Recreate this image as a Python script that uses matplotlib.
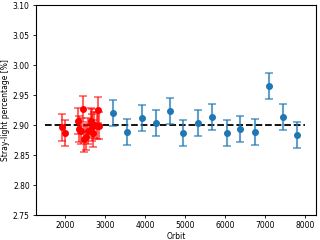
import numpy as np
import matplotlib.pyplot as plt

red_orbit = [1917, 2000, 2333, 2358, 2400, 2442, 2483, 2525, 2583, 2642,
             2667, 2683, 2708, 2733, 2792, 2817, 2858]
red_value = [2.896, 2.887, 2.907, 2.893, 2.890, 2.927, 2.877, 2.880, 2.890, 2.907,
             2.896, 2.904, 2.886, 2.900, 2.899, 2.925, 2.899]
red_err = [0.022] * len(red_orbit)

blue_orbit = [3200, 3550, 3925, 4275, 4625, 4950, 5325, 5675, 6050, 6375,
              6750, 7100, 7450, 7800]
blue_value = [2.920, 2.888, 2.912, 2.903, 2.923, 2.887, 2.903, 2.913, 2.887, 2.893,
              2.888, 2.965, 2.913, 2.883]
blue_err = [0.022] * len(blue_orbit)

ref_level = 2.90

fig = plt.figure(figsize=(3.2, 2.4), dpi=100)
ax = fig.add_axes([0.1125, 0.104, 0.875, 0.875])

ax.hlines(ref_level, 1500, 8000, colors='k', linestyles='--', lw=1.3, zorder=1)

ax.errorbar(red_orbit, red_value, yerr=red_err, fmt='o', color='red', ms=4,
            ecolor=(1, 0, 0, 0.6), elinewidth=1.5, capsize=3, capthick=1.2, zorder=3)
ax.errorbar(blue_orbit, blue_value, yerr=blue_err, fmt='o', color='tab:blue', ms=4,
            ecolor=(0.12, 0.47, 0.71, 0.7), elinewidth=1.5, capsize=3, capthick=1.2, zorder=3)

ax.set_xlim(1275, 8275)
ax.set_ylim(2.75, 3.10)
ax.set_xticks([2000, 3000, 4000, 5000, 6000, 7000, 8000])
ax.set_yticks(np.arange(2.75, 3.101, 0.05))
ax.yaxis.set_major_formatter(plt.FormatStrFormatter('%.2f'))
ax.tick_params(labelsize=5.5, length=2.5, width=0.6, pad=2)
ax.set_xlabel('Orbit', fontsize=5.5, labelpad=1)
ax.set_ylabel('Stray-light percentage [%]', fontsize=5.5, labelpad=2)
for s in ax.spines.values():
    s.set_linewidth(0.8)

fig.savefig('out.png', dpi=100)
